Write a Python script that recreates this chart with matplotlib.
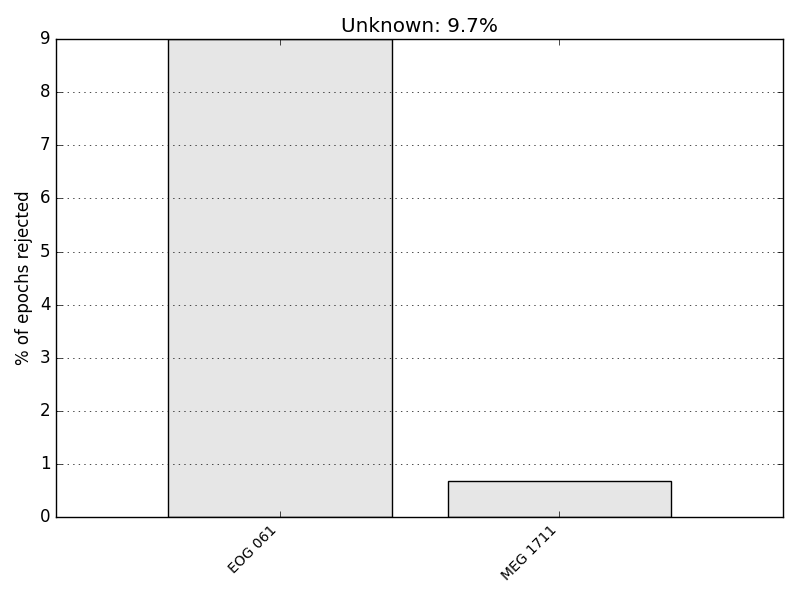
import numpy as np
import matplotlib
matplotlib.use('Agg')
import matplotlib.pyplot as plt

plt.style.use('classic')

# Drop log data
ch_names = ['EOG 061', 'MEG 1711']
percent_rejected = [9.0, 0.69]
subject = 'Unknown'
total_pct = 9.7

width = 0.8
fig = plt.figure(figsize=(8, 6), dpi=100, facecolor='white')
ax = fig.add_axes([0.07, 0.138, 0.909, 0.797])

x = np.arange(len(ch_names))
ax.bar(x, percent_rejected, width=width, align='center', color='0.9',
       edgecolor='black')
ax.set_xticks(x)
ax.set_xticklabels(ch_names, rotation=45, ha='right', size=10)
ax.set_xlim(-width, len(ch_names) - 1 + width)
ax.set_ylim(0, 9)
ax.set_ylabel('% of epochs rejected')
ax.set_title('%s: %0.1f%%' % (subject, total_pct))
ax.grid(True, axis='y')

fig.savefig('out.png', dpi=100, facecolor='white')
